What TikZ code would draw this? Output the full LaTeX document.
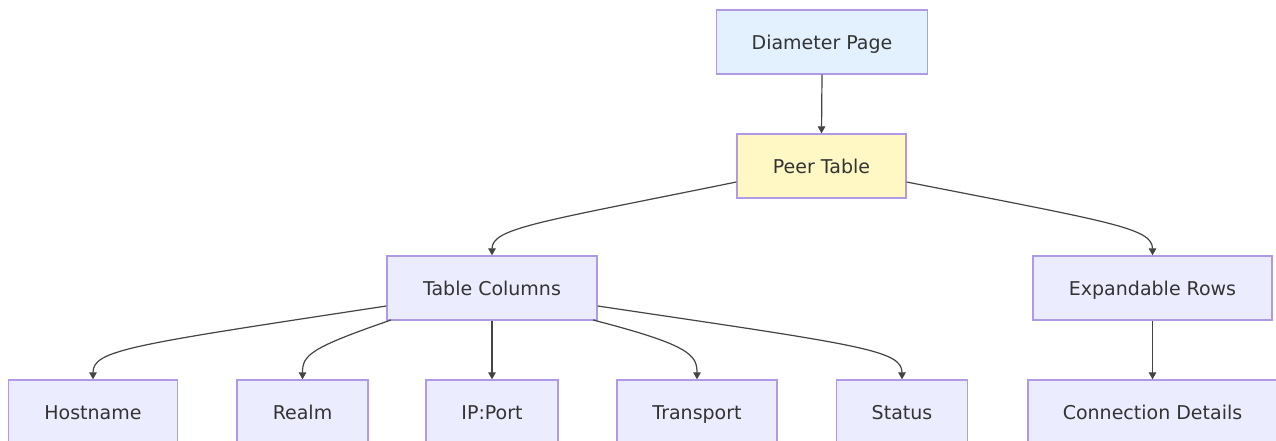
\documentclass[tikz,border=0pt]{standalone}
\usepackage{fontspec}
\setmainfont{DejaVu Sans}
\usetikzlibrary{arrows.meta}
\definecolor{nodefill}{HTML}{ECECFF}
\definecolor{nodeborder}{HTML}{B09AE6}
\definecolor{bluefill}{HTML}{E2F1FD}
\definecolor{yellowfill}{HTML}{FFF8C5}
\definecolor{txt}{HTML}{333333}
\definecolor{edge}{HTML}{444444}
\tikzset{
  box/.style={draw=nodeborder, line width=1.3pt, fill=nodefill, text=txt,
    inner sep=0pt, minimum height=64pt, text height=15pt, text depth=0pt,
    font=\fontsize{19}{23}\selectfont},
  conn/.style={draw=edge, line width=1.2pt, -{Triangle[length=7pt,width=7.5pt]}}
}
\begin{document}
\begin{tikzpicture}[x=1pt,y=-1pt]
\clip (0,0) rectangle (1276,441);
\fill[white] (0,0) rectangle (1276,441);
\node[box, fill=bluefill, minimum width=211pt] (dp) at (822,42) {Diameter Page};
\node[box, fill=yellowfill, minimum width=169pt] (pt) at (821.5,166) {Peer Table};
\node[box, minimum width=210pt] (tc) at (492,288) {Table Columns};
\node[box, minimum width=239pt] (er) at (1152.5,288) {Expandable Rows};
\node[box, minimum width=169pt] (hn) at (93,412) {Hostname};
\node[box, minimum width=131pt] (rl) at (302.5,412) {Realm};
\node[box, minimum width=132pt] (ip) at (492,412) {IP:Port};
\node[box, minimum width=160pt] (tr) at (697,412) {Transport};
\node[box, minimum width=131pt] (st) at (902,412) {Status};
\node[box, minimum width=249pt] (cd) at (1152.5,412) {Connection Details};
\draw[conn] (dp.south) -- (pt.north);
\draw[conn] (pt.west |- 0,182) .. controls (540,222) and (492,228) .. (tc.north);
\draw[conn] (pt.east |- 0,182) .. controls (1110,222) and (1152.5,228) .. (er.north);
\draw[conn] (tc.west |- 0,306) .. controls (130,345) and (93,350) .. (hn.north);
\draw[conn] (391,320) .. controls (310,348) and (302.5,355) .. (rl.north);
\draw[conn] (tc.south) -- (ip.north);
\draw[conn] (593,320) .. controls (690,345) and (697,355) .. (tr.north);
\draw[conn] (tc.east |- 0,306) .. controls (860,345) and (902,350) .. (st.north);
\draw[conn] (er.south) -- (cd.north);
\end{tikzpicture}
\end{document}
